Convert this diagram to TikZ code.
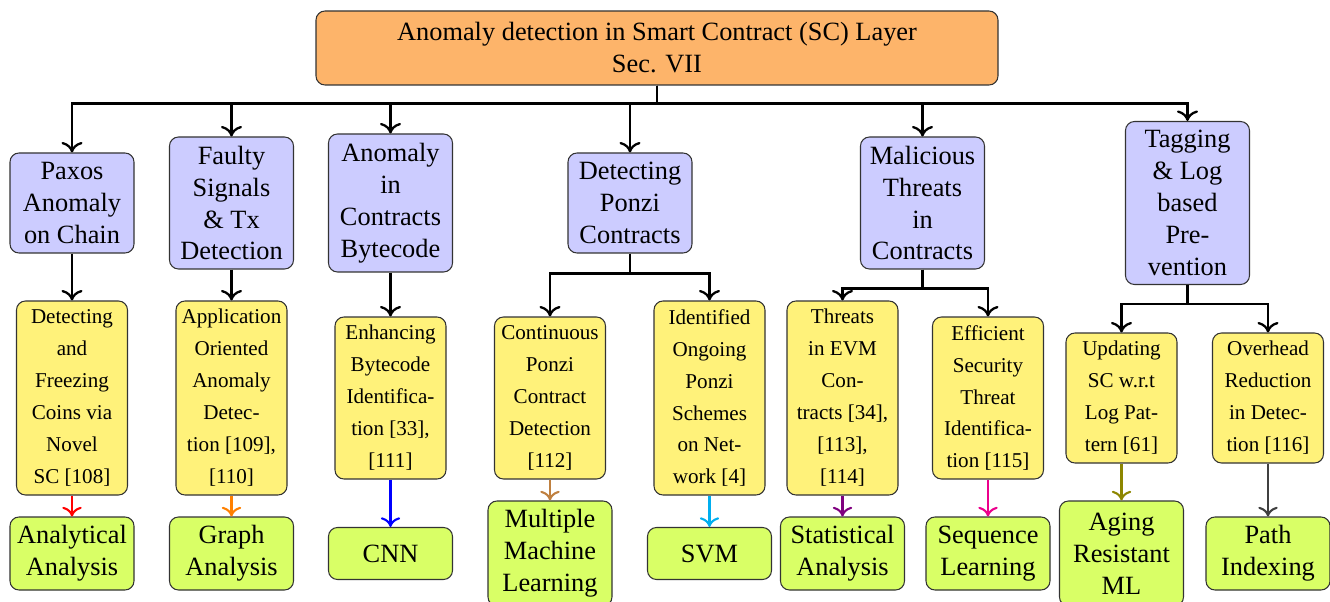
\documentclass[tikz,border=0pt]{standalone}
\usepackage{fontspec}
\setmainfont{Liberation Serif}
\usetikzlibrary{arrows.meta}
\definecolor{topc}{RGB}{253,180,106}
\definecolor{bluec}{RGB}{204,204,255}
\definecolor{yelc}{RGB}{255,242,122}
\definecolor{grnc}{RGB}{217,255,102}
\definecolor{skyc}{RGB}{0,174,239}
\definecolor{pinkc}{RGB}{236,0,140}
\tikzset{
  box/.style={draw=black!80, line width=0.6pt, rounded corners=0.18cm, align=center, inner sep=2pt},
  topbox/.style={box, fill=topc, minimum width=13.64cm, minimum height=1.48cm, font=\fontsize{15}{18.2}\selectfont},
  catbox/.style={box, fill=bluec, minimum width=2.48cm, font=\fontsize{15}{18.2}\selectfont},
  workbox/.style={box, fill=yelc, minimum width=2.22cm, font=\fontsize{12}{18.2}\selectfont},
  techbox/.style={box, fill=grnc, minimum width=2.48cm, font=\fontsize{15}{18.2}\selectfont},
  link/.style={-{To[length=6pt,width=12pt,line width=1.3pt]}, line width=1.3pt},
  techlink/.style={-{To[length=5.5pt,width=11pt,line width=1.2pt]}, line width=1.3pt}
}
\begin{document}
\begin{tikzpicture}
    \useasboundingbox (0,0) rectangle (26.6,-12.04);
    \node[topbox] (top) at (13.14,-0.96) {Anomaly detection in Smart Contract (SC) Layer\\Sec. VII};
    \node[catbox, minimum height=2cm] (b1) at (1.44,-4.06) {Paxos\\Anomaly\\on Chain};
    \node[catbox, minimum height=2.64cm] (b2) at (4.63,-4.06) {Faulty\\Signals\\\& Tx\\Detection};
    \node[catbox, minimum height=2.76cm] (b3) at (7.81,-4.06) {Anomaly\\in\\Contracts\\Bytecode};
    \node[catbox, minimum height=2cm] (b4) at (12.6,-4.06) {Detecting\\Ponzi\\Contracts};
    \node[catbox, minimum height=2.64cm] (b5) at (18.45,-4.06) {Malicious\\Threats\\in\\Contracts};
    \node[catbox, minimum height=3.26cm] (b6) at (23.75,-4.06) {Tagging\\\& Log\\based\\Pre-\\vention};
    \node[workbox, minimum height=3.88cm] (y1) at (1.44,-7.96) {Detecting\\and\\Freezing\\Coins via\\Novel\\SC [108]};
    \node[workbox, minimum height=3.88cm] (y2) at (4.63,-7.96) {Application\\Oriented\\Anomaly\\Detec-\\tion [109],\\{}[110]};
    \node[workbox, minimum height=3.24cm] (y3) at (7.81,-7.96) {Enhancing\\Bytecode\\Identifica-\\tion [33],\\{}[111]};
    \node[workbox, minimum height=3.24cm] (y4) at (11.0,-7.96) {Continuous\\Ponzi\\Contract\\Detection\\{}[112]};
    \node[workbox, minimum height=3.88cm] (y5) at (14.19,-7.96) {Identified\\Ongoing\\Ponzi\\Schemes\\on Net-\\work [4]};
    \node[workbox, minimum height=3.88cm] (y6) at (16.85,-7.96) {Threats\\in EVM\\Con-\\tracts [34],\\{}[113],\\{}[114]};
    \node[workbox, minimum height=3.24cm] (y7) at (19.76,-7.96) {Efficient\\Security\\Threat\\Identifica-\\tion [115]};
    \node[workbox, minimum height=2.6cm] (y8) at (22.43,-7.96) {Updating\\SC w.r.t\\Log Pat-\\tern [61]};
    \node[workbox, minimum height=2.6cm] (y9) at (25.36,-7.96) {Overhead\\Reduction\\in Detec-\\tion [116]};
    \node[techbox, minimum height=1.46cm] (g1) at (1.44,-11.07) {Analytical\\Analysis};
    \node[techbox, minimum height=1.46cm] (g2) at (4.63,-11.07) {Graph\\Analysis};
    \node[techbox, minimum height=1.04cm] (g3) at (7.81,-11.07) {CNN};
    \node[techbox, minimum height=2.1cm] (g4) at (11.0,-11.07) {Multiple\\Machine\\Learning};
    \node[techbox, minimum height=1.04cm] (g5) at (14.19,-11.07) {SVM};
    \node[techbox, minimum height=1.46cm] (g6) at (16.85,-11.07) {Statistical\\Analysis};
    \node[techbox, minimum height=1.46cm] (g7) at (19.76,-11.07) {Sequence\\Learning};
    \node[techbox, minimum height=2.1cm] (g8) at (22.43,-11.07) {Aging\\Resistant\\ML};
    \node[techbox, minimum height=1.46cm] (g9) at (25.36,-11.07) {Path\\Indexing};
    \foreach \b in {b1,b2,b3,b4,b5,b6}
        \draw[link] (top.south) -- ++(0,-0.36) -| (\b.north);
    \draw[link] (b1.south) -- (y1.north);
    \draw[link] (b2.south) -- (y2.north);
    \draw[link] (b3.south) -- (y3.north);
    \draw[link] (b4.south) -- ++(0,-0.4) -| (y4.north);
    \draw[link] (b4.south) -- ++(0,-0.4) -| (y5.north);
    \draw[link] (b5.south) -- ++(0,-0.38) -| (y6.north);
    \draw[link] (b5.south) -- ++(0,-0.38) -| (y7.north);
    \draw[link] (b6.south) -- ++(0,-0.38) -| (y8.north);
    \draw[link] (b6.south) -- ++(0,-0.38) -| (y9.north);
    \draw[techlink, red] (y1.south) -- (g1.north);
    \draw[techlink, orange] (y2.south) -- (g2.north);
    \draw[techlink, blue] (y3.south) -- (g3.north);
    \draw[techlink, brown] (y4.south) -- (g4.north);
    \draw[techlink, skyc] (y5.south) -- (g5.north);
    \draw[techlink, violet] (y6.south) -- (g6.north);
    \draw[techlink, pinkc] (y7.south) -- (g7.north);
    \draw[techlink, olive] (y8.south) -- (g8.north);
    \draw[techlink, darkgray] (y9.south) -- (g9.north);
\end{tikzpicture}
\end{document}
